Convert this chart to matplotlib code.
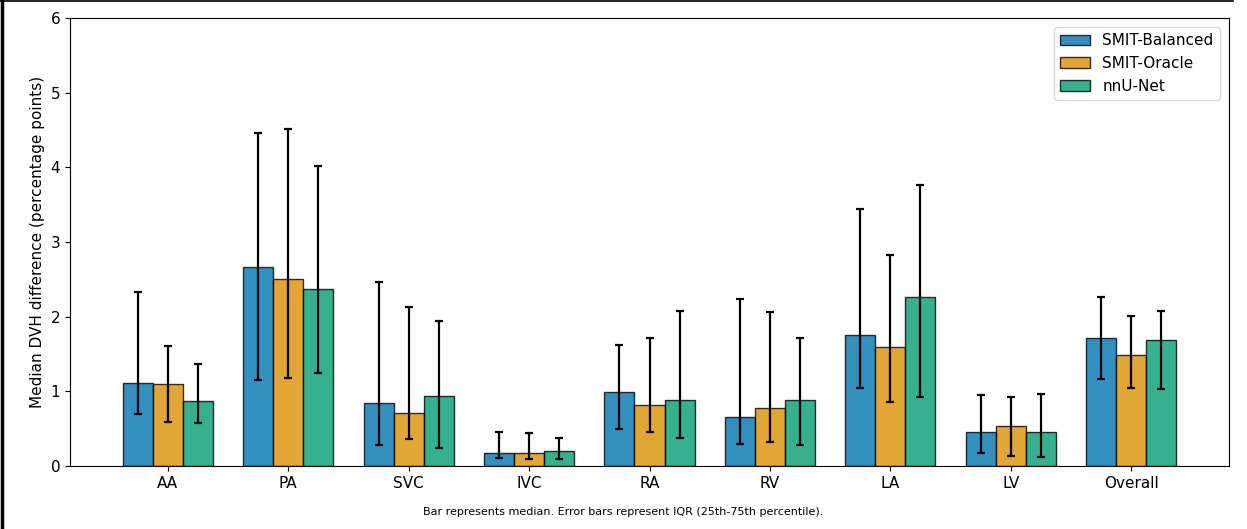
import matplotlib
matplotlib.use("Agg")
import matplotlib.pyplot as plt
import numpy as np
from matplotlib.lines import Line2D

categories = ["AA", "PA", "SVC", "IVC", "RA", "RV", "LA", "LV", "Overall"]
methods = ["SMIT-Balanced", "SMIT-Oracle", "nnU-Net"]

# Median DVH difference per structure
median_balanced = [1.11, 2.66, 0.84, 0.18, 0.99, 0.66, 1.75, 0.46, 1.72]
median_oracle = [1.10, 2.51, 0.71, 0.17, 0.82, 0.78, 1.60, 0.53, 1.49]
median_nnunet = [0.87, 2.37, 0.94, 0.20, 0.88, 0.89, 2.27, 0.46, 1.69]

# 25th percentile
q25_balanced = [0.69, 1.15, 0.28, 0.11, 0.50, 0.29, 1.045, 0.17, 1.17]
q25_oracle = [0.59, 1.18, 0.36, 0.09, 0.45, 0.32, 0.86, 0.14, 1.045]
q25_nnunet = [0.57, 1.24, 0.24, 0.09, 0.37, 0.28, 0.93, 0.12, 1.035]

# 75th percentile
q75_balanced = [2.33, 4.46, 2.46, 0.45, 1.62, 2.23, 3.44, 0.955, 2.26]
q75_oracle = [1.61, 4.51, 2.13, 0.44, 1.71, 2.06, 2.82, 0.93, 2.01]
q75_nnunet = [1.37, 4.02, 1.94, 0.37, 2.08, 1.72, 3.76, 0.96, 2.08]

colors = ["#0173B2", "#DE8F05", "#029E73"]

medians = [median_balanced, median_oracle, median_nnunet]
q25s = [q25_balanced, q25_oracle, q25_nnunet]
q75s = [q75_balanced, q75_oracle, q75_nnunet]

fig = plt.figure(figsize=(12.47, 5.29), dpi=100)
ax = fig.add_axes([70 / 1247, 1 - 466 / 529, (1229 - 70) / 1247, (466 - 18) / 529])

x = np.arange(len(categories))
width = 0.25
for i, (name, color) in enumerate(zip(methods, colors)):
    med = np.array(medians[i])
    lo = med - np.array(q25s[i])
    hi = np.array(q75s[i]) - med
    ax.bar(x + (i - 1) * width, med, width, color=color, alpha=0.8,
           edgecolor="black", linewidth=1, label=name,
           yerr=[lo, hi], capsize=3,
           error_kw=dict(ecolor="black", elinewidth=1.6, capthick=1.6))

ax.set_xticks(x)
ax.set_xticklabels(categories)
ax.set_ylim(0, 6)
ax.tick_params(axis="both", labelsize=11)
ax.set_ylabel("Median DVH difference (percentage points)", fontsize=11)
ax.legend(loc="upper right", fontsize=11, borderaxespad=0.6)

fig.text(0.5, 0.022, "Bar represents median. Error bars represent IQR (25th-75th percentile).",
         ha="center", va="bottom", fontsize=8)

# Frame lines along the left and top figure edges
fig.add_artist(Line2D([0.002, 0.002], [0, 1], transform=fig.transFigure, color="black", linewidth=2.5))
fig.add_artist(Line2D([0, 0.989], [0.998, 0.998], transform=fig.transFigure, color="black", linewidth=1.2))

fig.savefig("out.png", dpi=100)
